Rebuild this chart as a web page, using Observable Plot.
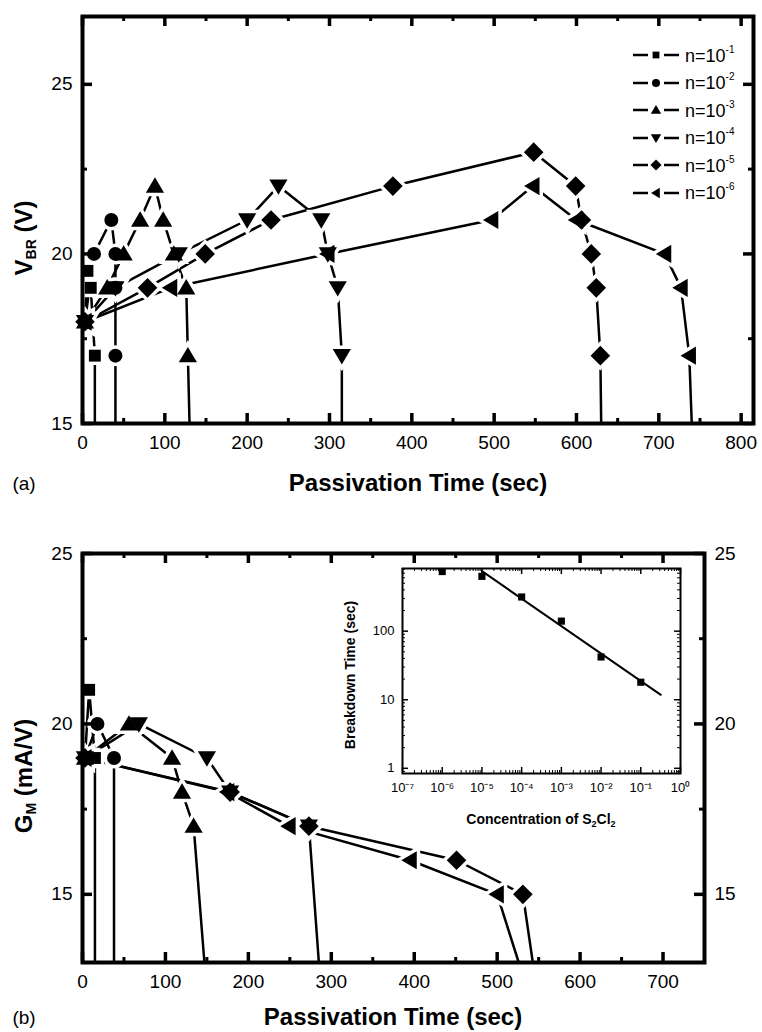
<!DOCTYPE html>
<html>
<head>
<meta charset="utf-8">
<script src="https://cdn.jsdelivr.net/npm/d3@7"></script>
<script src="https://cdn.jsdelivr.net/npm/@observablehq/plot@0.6"></script>
<style>
  html, body { margin: 0; padding: 0; background: #fff; }
  body { font-family: "Liberation Sans", Arial, Helvetica, sans-serif; color: #000; }
  #wrap { position: relative; width: 762px; height: 1032px; overflow: hidden; background: #fff; }
  #wrap svg.plot-svg { position: absolute; }
  .lbl { position: absolute; white-space: nowrap; transform: translate(-50%, -50%); line-height: 1; }
  .title { font-size: 24px; font-weight: bold; }
  .panel { font-size: 19px; }
  .ytitle { font-size: 24px; font-weight: bold; transform: translate(-50%, -50%) rotate(-90deg); }
  .ytitle sub { font-size: 14px; vertical-align: -4px; }
  .inx { font-size: 14px; font-weight: bold; }
  .inx sub { font-size: 9px; vertical-align: -3px; }
  .iny { font-size: 14px; font-weight: bold; transform: translate(-50%, -50%) rotate(-90deg); }
  .lg { position: absolute; left: 633px; height: 20px; display: flex; align-items: center; font-size: 18px; white-space: nowrap; }
  .lg svg { display: block; margin-right: 6px; }
  .lg sup { font-size: 10px; vertical-align: 9px; }
</style>
</head>
<body>
<div id="wrap"></div>
<script>
// ---------------- DATA ----------------
const seriesExp = ["-1", "-2", "-3", "-4", "-5", "-6"];
const seriesSymbol = ["square", "circle", "triUp", "triDown", "diamond", "triLeft"];

// Panel (a): breakdown voltage V_BR (V) vs passivation time (sec)
const aTime1 = [3, 6, 10, 15];
const aVbr1  = [18, 19.5, 19, 17];
const aTime2 = [3, 14, 35, 40, 40, 40];
const aVbr2  = [18, 20, 21, 20, 19, 17];
const aTime3 = [3, 30, 50, 70, 88, 98, 111, 126, 128];
const aVbr3  = [18, 19, 20, 21, 22, 21, 20, 19, 17];
const aTime4 = [3, 40, 117, 200, 238, 290, 298, 310, 315];
const aVbr4  = [18, 19, 20, 21, 22, 21, 20, 19, 17];
const aTime5 = [3, 79, 149, 229, 377, 548, 599, 606, 618, 624, 629];
const aVbr5  = [18, 19, 20, 21, 22, 23, 22, 21, 20, 19, 17];
const aTime6 = [3, 107, 298, 497, 547, 600, 707, 727, 737];
const aVbr6  = [18, 19, 20, 21, 22, 21, 20, 19, 17];
const aBreakTime = [15, 40, 130, 315, 630, 740];

// Panel (b): transconductance G_M (mA/V) vs passivation time (sec)
const bTime1 = [3, 8, 15];
const bGm1   = [19, 21, 19];
const bTime2 = [3, 18, 38];
const bGm2   = [19, 20, 19];
const bTime3 = [3, 56, 108, 120, 134];
const bGm3   = [19, 20, 19, 18, 17];
const bTime4 = [3, 68, 150, 178, 273];
const bGm4   = [19, 20, 19, 18, 17];
const bTime5 = [3, 178, 273, 451, 531];
const bGm5   = [19, 18, 17, 16, 15];
const bTime6 = [3, 175, 249, 395, 500];
const bGm6   = [19, 18, 17, 16, 15];
const bBreakTime = [15, 38, 147, 285, 543, 526];

// Inset: breakdown time vs concentration of S2Cl2
const conc = [1e-6, 1e-5, 1e-4, 1e-3, 1e-2, 1e-1];
const breakdownTime = [740, 630, 315, 140, 42, 18];
const fitConc = [1e-5, 0.32];
const fitTime = [750, 11.8];

// Tick values
const aXTicks = [0, 100, 200, 300, 400, 500, 600, 700, 800];
const aXMinor = [50, 150, 250, 350, 450, 550, 650, 750];
const aYTicks = [15, 20, 25];
const aYMinor = [17.5, 22.5];
const bXTicks = [0, 100, 200, 300, 400, 500, 600, 700];
const bXMinor = [50, 150, 250, 350, 450, 550, 650];
const bYTicks = [15, 20, 25];
const bYMinor = [17.5, 22.5];
const inXTicks = [1e-7, 1e-6, 1e-5, 1e-4, 1e-3, 1e-2, 1e-1, 1e0];
const inYTicks = [1, 10, 100];

// ---------------- SYMBOLS ----------------
function poly(pts) {
  return {
    draw(ctx, size) {
      const r = Math.sqrt(size / Math.PI);
      ctx.moveTo(pts[0][0] * r, pts[0][1] * r);
      for (let k = 1; k < pts.length; ++k) ctx.lineTo(pts[k][0] * r, pts[k][1] * r);
      ctx.closePath();
    }
  };
}
const SYM = {
  square: poly([[-0.85, -0.85], [0.85, -0.85], [0.85, 0.85], [-0.85, 0.85]]),
  circle: d3.symbolCircle,
  triUp: poly([[0, -1.25], [1.3, 0.95], [-1.3, 0.95]]),
  triDown: poly([[0, 1.25], [1.3, -0.95], [-1.3, -0.95]]),
  diamond: poly([[0, -1.4], [1.4, 0], [0, 1.4], [-1.4, 0]]),
  triLeft: poly([[-1.25, 0], [0.95, -1.3], [0.95, 1.3]])
};

const FONT = '"Liberation Sans", Arial, Helvetica, sans-serif';
const wrap = document.getElementById("wrap");

function place(svg, left, top) {
  svg.classList.add("plot-svg");
  svg.style.left = left + "px";
  svg.style.top = top + "px";
  wrap.appendChild(svg);
}

function buildSeries(times, values) {
  return times.map((t, i) => t.map((x, j) => ({x, y: values[i][j]})));
}

function panel(cfg) {
  const {series, breaks, xDomain, yDomain, width, height, mt, mb, ml, mr,
         xTicks, xMinor, yTicks, yMinor, rightLabels} = cfg;
  const plotH = height - mt - mb, plotW = width - ml - mr;
  const yMin = yDomain[0];
  const L = 10, l = 5;
  const marks = [];
  series.forEach((rows, i) => {
    marks.push(Plot.line(rows.concat([{x: breaks[i], y: yMin}]),
      {x: "x", y: "y", stroke: "black", strokeWidth: 2.5}));
  });
  series.forEach((rows, i) => {
    marks.push(Plot.dot(rows, {x: "x", y: "y", symbol: SYM[seriesSymbol[i]], r: 7,
      fill: "white", stroke: "white", strokeWidth: 7}));
  });
  series.forEach((rows, i) => {
    marks.push(Plot.dot(rows, {x: "x", y: "y", symbol: SYM[seriesSymbol[i]], r: 7,
      fill: "black", stroke: "none"}));
  });
  // inward ticks on all four sides
  marks.push(
    Plot.tickX(xTicks, {x: d => d, insetTop: plotH - L, stroke: "black", strokeWidth: 3.5}),
    Plot.tickX(xTicks, {x: d => d, insetBottom: plotH - L, stroke: "black", strokeWidth: 3.5}),
    Plot.tickX(xMinor, {x: d => d, insetTop: plotH - l, stroke: "black", strokeWidth: 3}),
    Plot.tickX(xMinor, {x: d => d, insetBottom: plotH - l, stroke: "black", strokeWidth: 3}),
    Plot.tickY(yTicks, {y: d => d, insetRight: plotW - L, stroke: "black", strokeWidth: 3.5}),
    Plot.tickY(yTicks, {y: d => d, insetLeft: plotW - L, stroke: "black", strokeWidth: 3.5}),
    Plot.tickY(yMinor, {y: d => d, insetRight: plotW - l, stroke: "black", strokeWidth: 3}),
    Plot.tickY(yMinor, {y: d => d, insetLeft: plotW - l, stroke: "black", strokeWidth: 3}),
    Plot.frame({stroke: "black", strokeWidth: 4}),
    Plot.axisX(xTicks, {anchor: "bottom", tickSize: 0, tickPadding: 12, fontSize: 19, label: null}),
    Plot.axisY(yTicks, {anchor: "left", tickSize: 0, tickPadding: 10, fontSize: 19, label: null})
  );
  if (rightLabels) {
    marks.push(Plot.axisY(yTicks, {anchor: "right", tickSize: 0, tickPadding: 10, fontSize: 19, label: null}));
  }
  return Plot.plot({
    width, height, marginTop: mt, marginBottom: mb, marginLeft: ml, marginRight: mr,
    x: {domain: xDomain},
    y: {domain: yDomain},
    style: {background: "transparent", fontFamily: FONT, fontSize: "19px", color: "black", overflow: "visible"},
    marks
  });
}

// Panel (a)
const aSeries = buildSeries([aTime1, aTime2, aTime3, aTime4, aTime5, aTime6],
                            [aVbr1, aVbr2, aVbr3, aVbr4, aVbr5, aVbr6]);
place(panel({
  series: aSeries, breaks: aBreakTime, xDomain: [0, 815], yDomain: [15, 27],
  width: 762, height: 460, mt: 16, mb: 37, ml: 82, mr: 9,
  xTicks: aXTicks, xMinor: aXMinor, yTicks: aYTicks, yMinor: aYMinor, rightLabels: false
}), 0, 0);

// Panel (b)
const bSeries = buildSeries([bTime1, bTime2, bTime3, bTime4, bTime5, bTime6],
                            [bGm1, bGm2, bGm3, bGm4, bGm5, bGm6]);
place(panel({
  series: bSeries, breaks: bBreakTime, xDomain: [0, 750], yDomain: [13, 25],
  width: 762, height: 500, mt: 53, mb: 38, ml: 82, mr: 58,
  xTicks: bXTicks, xMinor: bXMinor, yTicks: bYTicks, yMinor: bYMinor, rightLabels: true
}), 0, 500);

// Inset
const supMap = {"-": "\u207B", "0": "\u2070", "1": "\u00B9", "2": "\u00B2", "3": "\u00B3",
  "4": "\u2074", "5": "\u2075", "6": "\u2076", "7": "\u2077", "8": "\u2078", "9": "\u2079"};
const powFmt = d => "10" + String(Math.round(Math.log10(d))).split("").map(c => supMap[c]).join("");
const inXMinor = [], inYMinor = [];
inXTicks.slice(0, -1).forEach(t => { for (let k = 2; k <= 9; ++k) inXMinor.push(t * k); });
[0.1, 1, 10, 100].forEach(t => { for (let k = 2; k <= 9; ++k) { const v = t * k; if (v >= 0.84 && v <= 820) inYMinor.push(v); } });
const inRows = conc.map((c, i) => ({x: c, y: breakdownTime[i]}));
const fitRows = fitConc.map((c, i) => ({x: c, y: fitTime[i]}));
{
  const width = 350, height = 300, mt = 20, mb = 75, ml = 62, mr = 10;
  const plotH = height - mt - mb, plotW = width - ml - mr;
  const L = 6, l = 3;
  const inset = Plot.plot({
    width, height, marginTop: mt, marginBottom: mb, marginLeft: ml, marginRight: mr,
    x: {type: "log", domain: [1e-7, 1]},
    y: {type: "log", domain: [0.84, 820]},
    style: {background: "transparent", fontFamily: FONT, fontSize: "13px", color: "black", overflow: "visible"},
    marks: [
      Plot.line(fitRows, {x: "x", y: "y", stroke: "black", strokeWidth: 2}),
      Plot.dot(inRows, {x: "x", y: "y", symbol: SYM.square, r: 4.2, fill: "black", stroke: "none"}),
      Plot.tickX(inXTicks, {x: d => d, insetTop: plotH - L, stroke: "black", strokeWidth: 1.5}),
      Plot.tickX(inXTicks, {x: d => d, insetBottom: plotH - L, stroke: "black", strokeWidth: 1.5}),
      Plot.tickX(inXMinor, {x: d => d, insetTop: plotH - l, stroke: "black", strokeWidth: 1}),
      Plot.tickX(inXMinor, {x: d => d, insetBottom: plotH - l, stroke: "black", strokeWidth: 1}),
      Plot.tickY(inYTicks, {y: d => d, insetRight: plotW - L, stroke: "black", strokeWidth: 1.5}),
      Plot.tickY(inYTicks, {y: d => d, insetLeft: plotW - L, stroke: "black", strokeWidth: 1.5}),
      Plot.tickY(inYMinor, {y: d => d, insetRight: plotW - l, stroke: "black", strokeWidth: 1}),
      Plot.tickY(inYMinor, {y: d => d, insetLeft: plotW - l, stroke: "black", strokeWidth: 1}),
      Plot.frame({stroke: "black", strokeWidth: 2}),
      Plot.axisX(inXTicks, {anchor: "bottom", tickSize: 0, tickPadding: 9, fontSize: 13, tickFormat: powFmt, label: null}),
      Plot.axisY(inYTicks, {anchor: "left", tickSize: 0, tickPadding: 8, fontSize: 13, tickFormat: d => String(d), label: null})
    ]
  });
  place(inset, 340, 548);
}

// ---------------- TEXT / LEGEND ----------------
function addLabel(html, cls, x, y) {
  const d = document.createElement("div");
  d.className = "lbl " + cls;
  d.style.left = x + "px";
  d.style.top = y + "px";
  d.innerHTML = html;
  wrap.appendChild(d);
}
addLabel("Passivation Time (sec)", "title", 418, 483);
addLabel("(a)", "panel", 24, 483);
addLabel("V<sub>BR</sub> (V)", "ytitle", 25, 238);
addLabel("Passivation Time (sec)", "title", 393, 1017);
addLabel("(b)", "panel", 24, 1017);
addLabel("G<sub>M</sub> (mA/V)", "ytitle", 25, 776);
addLabel("Concentration of S<sub>2</sub>Cl<sub>2</sub>", "inx", 541, 820);
addLabel("Breakdown Time (sec)", "iny", 350, 675);

// Legend (panel a)
const legendY = [55, 82.5, 110, 137.5, 165, 192.5];
seriesExp.forEach((e, i) => {
  const row = document.createElement("div");
  row.className = "lg";
  row.style.top = (legendY[i] - 10) + "px";
  const p = d3.path();
  const sym = SYM[seriesSymbol[i]];
  sym.draw(p, Math.PI * 4 * 4);
  row.innerHTML =
    `<svg width="46" height="20" viewBox="-23 -10 46 20">` +
    `<line x1="-23" x2="-8" y1="0" y2="0" stroke="black" stroke-width="2.5"/>` +
    `<line x1="8" x2="23" y1="0" y2="0" stroke="black" stroke-width="2.5"/>` +
    `<path d="${p.toString()}" fill="black"/></svg>` +
    `<span>n=10<sup>${e}</sup></span>`;
  wrap.appendChild(row);
});
</script>
</body>
</html>
